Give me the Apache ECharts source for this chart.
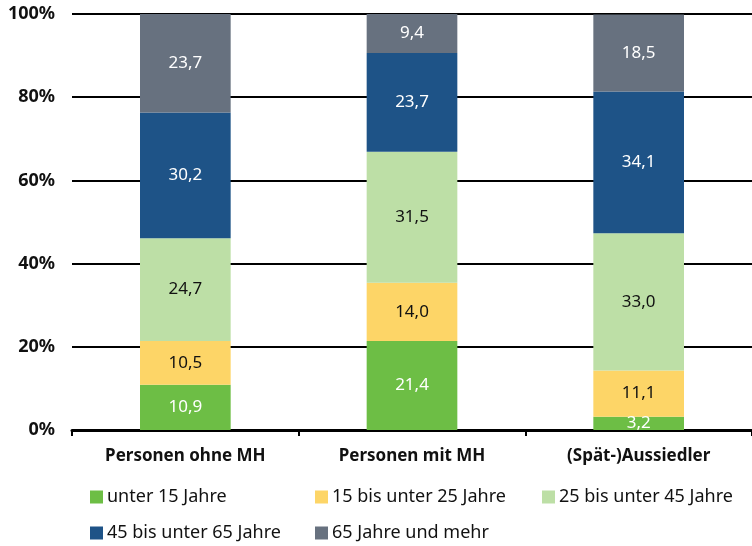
<!DOCTYPE html>
<html>
<head>
<meta charset="utf-8">
<script src="https://cdn.jsdelivr.net/npm/echarts@6/dist/echarts.min.js"></script>
<style>
  html, body { margin: 0; padding: 0; background: #fff; }
  #chart { width: 752px; height: 546px; }
</style>
</head>
<body>
<div id="chart"></div>
<script>
const categories = ['Personen ohne MH', 'Personen mit MH', '(Spät-)Aussiedler'];
const seriesNames = ['unter 15 Jahre', '15 bis unter 25 Jahre', '25 bis unter 45 Jahre', '45 bis unter 65 Jahre', '65 Jahre und mehr'];
const unter15 = [10.9, 21.4, 3.2];
const von15bis25 = [10.5, 14.0, 11.1];
const von25bis45 = [24.7, 31.5, 33.0];
const von45bis65 = [30.2, 23.7, 34.1];
const ab65 = [23.7, 9.4, 18.5];
const yTicks = [0, 20, 40, 60, 80, 100];

const colors = ['#6dbe45', '#fdd567', '#bddfa6', '#1e5387', '#67717f'];
const labelColors = ['#ffffff', '#111111', '#111111', '#ffffff', '#ffffff'];
const values = [unter15, von15bis25, von25bis45, von45bis65, ab65];

const font = '"Noto Sans", "Open Sans", sans-serif';

const chart = echarts.init(document.getElementById('chart'));

// Legende: jedes Element einzeln positioniert (Spaltenraster)
const legendPos = [
  { left: 90, top: 488 },
  { left: 315, top: 488 },
  { left: 542, top: 488 },
  { left: 90, top: 524 },
  { left: 315, top: 524 }
];

const option = {
  animation: false,
  color: colors,
  grid: { left: 72, right: 0, top: 14, bottom: 116 },
  legend: seriesNames.map((name, i) => ({
    data: [name],
    left: legendPos[i].left,
    top: legendPos[i].top,
    icon: 'rect',
    itemWidth: 13,
    itemHeight: 13,
    itemGap: 0,
    padding: 0,
    selectedMode: false,
    textStyle: { fontFamily: font, fontSize: 18, color: '#111', padding: [0, 0, 0, -1] }
  })),
  xAxis: {
    type: 'category',
    data: categories,
    boundaryGap: true,
    axisLine: { lineStyle: { color: '#000', width: 3 } },
    axisTick: { show: true, length: 6, lineStyle: { color: '#000', width: 2 } },
    axisLabel: { fontFamily: font, fontSize: 17, fontWeight: 'bold', color: '#111', margin: 18 }
  },
  yAxis: {
    type: 'value',
    min: yTicks[0],
    max: yTicks[yTicks.length - 1],
    interval: 20,
    axisLine: { show: false },
    axisTick: { show: false },
    splitLine: { lineStyle: { color: '#000', width: 2 } },
    axisLabel: {
      fontFamily: font, fontSize: 18, fontWeight: 'bold', color: '#111', margin: 17,
      formatter: v => v + '%'
    }
  },
  series: seriesNames.map((name, i) => ({
    name: name,
    type: 'bar',
    stack: 'total',
    barWidth: '40%',
    data: values[i],
    itemStyle: { color: colors[i] },
    label: {
      show: true,
      position: 'inside',
      fontFamily: font,
      fontSize: 17,
      color: labelColors[i],
      formatter: p => p.value.toFixed(1).replace('.', ',')
    }
  }))
};

chart.setOption(option);
</script>
</body>
</html>
